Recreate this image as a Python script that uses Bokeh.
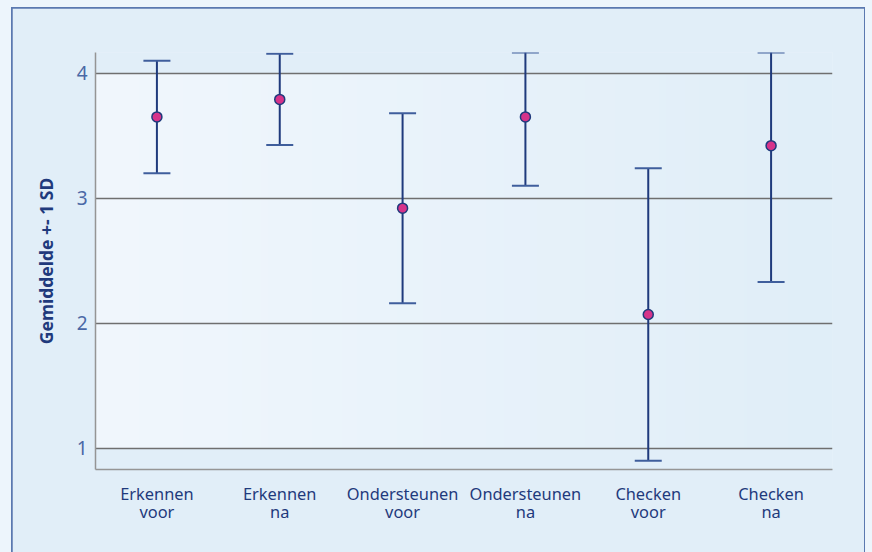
import numpy as np
from bokeh.plotting import figure
from bokeh.layouts import column
from bokeh.models import Range1d, FixedTicker, Whisker, ColumnDataSource, TeeHead
from bokeh.embed import file_html
from bokeh.resources import INLINE

# ---- data ----
categories = ["Erkennen\nvoor", "Erkennen\nna", "Ondersteunen\nvoor",
              "Ondersteunen\nna", "Checken\nvoor", "Checken\nna"]
means = [3.65, 3.79, 2.92, 3.65, 2.07, 3.42]
sds = [0.45, 0.365, 0.76, 0.55, 1.17, 1.09]
y_ticks = [1, 2, 3, 4]
y_min, y_max = 0.83, 4.165

# ---- styles ----
NAVY = "#1f3a7c"
MAGENTA = "#d6338a"
BOX_BG = "#e1eef8"
PAGE_BG = "#edf5fc"
BORDER = "#5b79b0"
GRID = "#6f6f6f"
AXIS = "#959595"

x = np.arange(len(categories)) + 0.5
m = np.array(means)
s = np.array(sds)
upper = np.minimum(m + s, y_max)
lower = np.maximum(m - s, y_min)

src = ColumnDataSource(dict(x=x, mean=m, upper=upper, lower=lower))

p = figure(width=852, height=548, output_backend="svg", toolbar_location=None,
           x_range=Range1d(0, len(categories)), y_range=Range1d(y_min, y_max),
           min_border_left=83, min_border_right=32, min_border_top=44, min_border_bottom=87)

p.background_fill_color = BOX_BG
p.border_fill_color = BOX_BG
p.outline_line_color = None
p.styles = {"margin-left": "12px", "margin-top": "8px",
            "outline": f"2px solid {BORDER}", "outline-offset": "-1px"}

# horizontal gradient band in the plotting area (between 1 and 4)
N = 200
t = np.linspace(0, 1, N)
left_c = np.array([241, 247, 253])
right_c = np.array([224, 238, 248])
cols = (left_c[None, :] * (1 - t[:, None]) + right_c[None, :] * t[:, None]).astype(np.uint8)
rgba = np.zeros((2, N, 4), dtype=np.uint8)
rgba[:, :, :3] = cols[None, :, :]
rgba[:, :, 3] = 255
img = rgba.view(dtype=np.uint32).reshape((2, N))
p.image_rgba(image=[img], x=0, y=min(y_ticks), dw=len(categories), dh=max(y_ticks) - min(y_ticks), level="image")

# grid
p.xgrid.grid_line_color = None
p.ygrid.ticker = FixedTicker(ticks=y_ticks)
p.ygrid.grid_line_color = GRID
p.ygrid.grid_line_width = 1.5

# axes
p.yaxis.ticker = FixedTicker(ticks=y_ticks)
p.xaxis.ticker = FixedTicker(ticks=list(x))
p.xaxis.major_label_overrides = {float(xi): c for xi, c in zip(x, categories)}
for ax in (p.xaxis, p.yaxis):
    ax.major_tick_line_color = None
    ax.minor_tick_line_color = None
    ax.axis_line_color = AXIS
    ax.axis_line_width = 1.5

p.xaxis.major_label_text_font = "Noto Sans"
p.xaxis.major_label_text_font_size = "16.4px"
p.xaxis.major_label_text_color = NAVY
p.xaxis.major_label_standoff = 6
p.xaxis.major_label_text_line_height = 0.8

p.yaxis.major_label_text_font = "Noto Sans"
p.yaxis.major_label_text_font_size = "19px"
p.yaxis.major_label_text_color = "#4a68a6"
p.yaxis.major_label_standoff = 2

p.yaxis.axis_label = "Gemiddelde +- 1 SD"
p.yaxis.axis_label_text_font = "Noto Sans"
p.yaxis.axis_label_text_font_style = "bold"
p.yaxis.axis_label_text_font_size = "17.5px"
p.yaxis.axis_label_text_color = NAVY
p.yaxis.axis_label_standoff = 16

# error bars
w = Whisker(base="x", upper="upper", lower="lower", source=src,
            line_color=NAVY, line_width=2,
            upper_head=TeeHead(size=27, line_color="#3f5e9c", line_width=2),
            lower_head=TeeHead(size=27, line_color="#3f5e9c", line_width=2))
p.add_layout(w)

# means
p.scatter("x", "mean", source=src, size=10, fill_color=MAGENTA,
          line_color=NAVY, line_width=1.5)

root = column(p, styles={"background-color": PAGE_BG, "width": "872px",
                         "height": "552px", "overflow": "hidden"})

open("out.html", "w").write(file_html(root, INLINE))
